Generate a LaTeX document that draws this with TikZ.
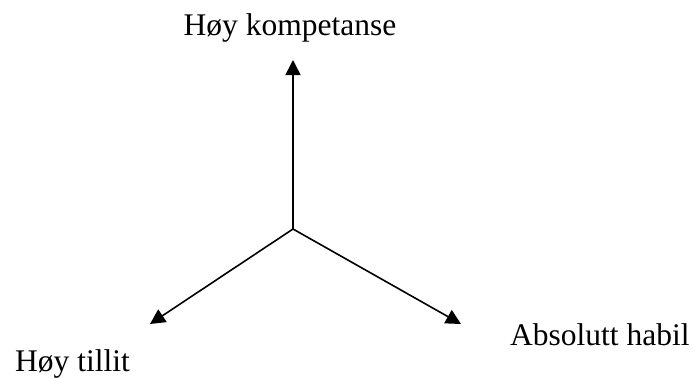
\documentclass[tikz,border=0pt]{standalone}
\usepackage{fontspec}
\setmainfont{Liberation Serif}
\usetikzlibrary{arrows.meta}
\begin{document}
\begin{tikzpicture}[x=1pt,y=-1pt,
  axis/.style={line width=1.6pt,-{Triangle[length=15pt,width=15pt]}},
  lbl/.style={inner sep=0pt,font=\fontsize{31.5}{36}\selectfont}]
\useasboundingbox (0,0) rectangle (693,378);
\coordinate (c) at (293,229);
\coordinate (up) at (293,60);
\coordinate (lt) at (150,324);
\coordinate (rt) at (461,324);
\draw[axis] (c) -- (up);
\draw[axis] (c) -- (lt);
\draw[axis] (c) -- (rt);
\node[lbl,anchor=base] (k) at (290,35) {Høy kompetanse};
\node[lbl,anchor=base west] (t) at (15,371) {Høy tillit};
\node[lbl,anchor=base west] (h) at (510,345) {Absolutt habil};
\end{tikzpicture}
\end{document}
